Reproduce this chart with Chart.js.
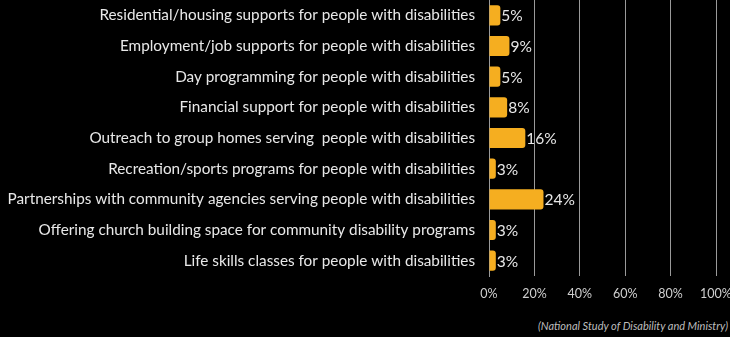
<!DOCTYPE html>
<html>
<head>
<meta charset="utf-8">
<script src="https://cdn.jsdelivr.net/npm/chart.js@4.4.1/dist/chart.umd.min.js"></script>
<style>
  body { margin: 0; background: #000; }
  #wrap { position: relative; width: 730px; height: 311px; }
  #source {
    position: absolute; right: 2px; top: 319px;
    font: italic 11px Lato, sans-serif; color: #bdbdbd;
  }
</style>
</head>
<body>
<div id="wrap"><canvas id="ministry"></canvas></div>
<div id="source">(National Study of Disability and Ministry)</div>
<script>
const categories = [
    'Residential/housing supports for people with disabilities',
    'Employment/job supports for people with disabilities',
    'Day programming for people with disabilities',
    'Financial support for people with disabilities',
    'Outreach to group homes serving  people with disabilities',
    'Recreation/sports programs for people with disabilities',
    'Partnerships with community agencies serving people with disabilities',
    'Offering church building space for community disability programs',
    'Life skills classes for people with disabilities'
];
const percents = [5, 9, 5, 8, 16, 3, 24, 3, 3];
const tickValues = [0, 20, 40, 60, 80, 100];

// writes the percent just past the end of each bar
const barLabels = {
    id: 'barLabels',
    afterDatasetsDraw(chart) {
        const ctx = chart.ctx;
        const meta = chart.getDatasetMeta(0);
        ctx.save();
        ctx.font = '15.5px Lato, sans-serif';
        ctx.fillStyle = '#e8e8e8';
        ctx.textBaseline = 'middle';
        ctx.textAlign = 'left';
        meta.data.forEach((bar, i) => {
            ctx.fillText(percents[i] + '%', bar.x + 1, bar.y + 1);
        });
        ctx.restore();
    }
};

const ministry = new Chart(
    document.getElementById('ministry'),
    {
    type: 'bar',
    data: {
        labels: categories,
        datasets: [{
            data: percents,
            backgroundColor: 'rgb(245, 174, 32)',
            borderRadius: 3,
            borderSkipped: 'start',
            barPercentage: 0.8,
            categoryPercentage: 0.82
        }]
    },
    options: {
        indexAxis: 'y',
        responsive: true,
        maintainAspectRatio: false,
        animation: false,
        layout: { padding: 0 },
        plugins: {
            legend: { display: false },
            tooltip: { enabled: false }
        },
        scales: {
            x: {
                min: 0,
                max: 100,
                afterBuildTicks: (axis) => {
                    axis.ticks = tickValues.map(v => ({ value: v }));
                },
                afterFit: (scale) => {
                    scale.paddingLeft = 0;
                    scale.paddingRight = 14;
                },
                grid: { color: '#9a9a9a', lineWidth: 1, drawTicks: false },
                border: { display: false },
                ticks: {
                    color: '#cfcfcf',
                    padding: 10,
                    font: { family: 'Lato', size: 12.5 },
                    callback: (v) => v + '%'
                }
            },
            y: {
                // long category names need more room than the default half width
                afterFit: (scale) => {
                    scale.width = 489;
                    scale.paddingTop = 0;
                    scale.paddingBottom = 0;
                },
                grid: { display: false },
                border: { color: '#9a9a9a' },
                ticks: {
                    color: '#e8e8e8',
                    padding: 6,
                    font: { family: 'Lato', size: 15.3 }
                }
            }
        }
    },
    plugins: [barLabels]
    }
);
</script>
</body>
</html>
